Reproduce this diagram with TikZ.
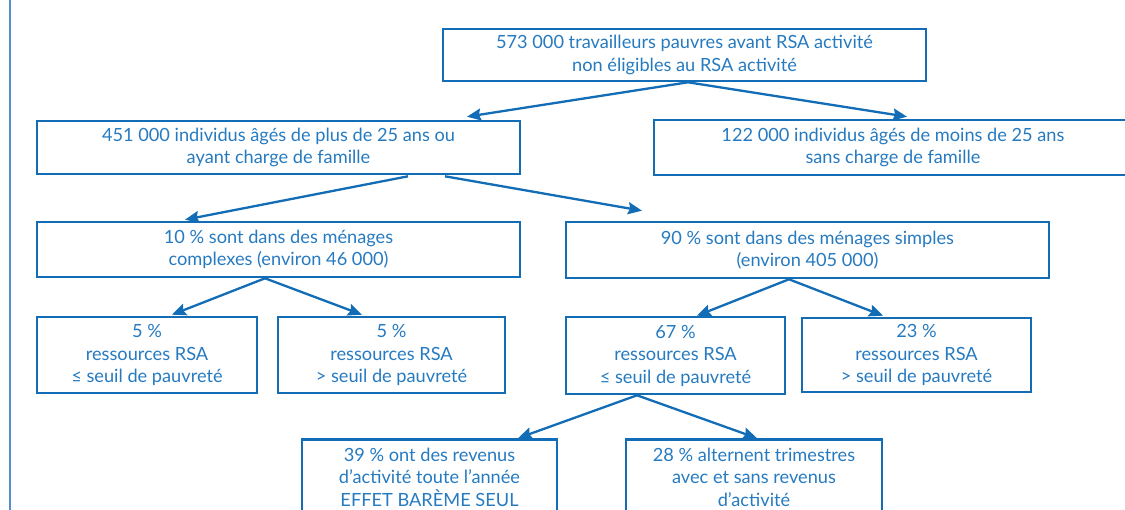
\documentclass[tikz,border=0pt]{standalone}
\usepackage{fontspec}
\setmainfont{Lato}
\usepackage{tikz}
\usetikzlibrary{calc}
\usetikzlibrary{positioning}
\usetikzlibrary{arrows.meta}
\definecolor{rsablue}{RGB}{18,108,182}
\definecolor{rsatext}{RGB}{38,122,192}
\definecolor{rsaframe}{RGB}{80,145,205}
\tikzset{
  flownode/.style = {align=center, inner sep=0pt, text centered,
    font=\fontsize{18.2}{22.5}\selectfont, text=rsatext},
  wide_box/.style = {flownode, rectangle, draw=rsablue, line width=2.6pt,
    minimum width=483pt, minimum height=53pt},
  small_box/.style = {flownode, rectangle, draw=rsablue, line width=2.6pt,
    minimum width=222pt, minimum height=76pt},
  flow_arrow/.style = {rsablue, line width=2.3pt}
}

\begin{document}
\begin{tikzpicture}[
    x=1pt, y=-1pt,
    >={Stealth[length=14pt, width=12pt, inset=2pt]}
    ]
  \useasboundingbox (0,0) rectangle (1125,510);
  \clip (0,0) rectangle (1125,510);
  \draw [rsaframe, line width=1.4pt] (10,0) -- (10,510);

  % top of the tree
  \node (top) [wide_box, minimum height=52pt] at (684.5,55)
    {573 000 travailleurs pauvres avant RSA activité\\
     non éligibles au RSA activité};
  \node (n451) [wide_box] at (278.5,147.5)
    {451 000 individus âgés de plus de 25 ans ou\\
     ayant charge de famille};
  \node (n122) [wide_box, minimum width=478pt, minimum height=55pt] at (893,147.5)
    {122 000 individus âgés de moins de 25 ans\\
     sans charge de famille};

  % type of household
  \node (n10) [wide_box, minimum height=55pt] at (278.5,249.5)
    {10 \% sont dans des ménages\\
     complexes (environ 46 000)};
  \node (n90) [wide_box, minimum height=56pt] at (807.5,250)
    {90 \% sont dans des ménages simples\\
     (environ 405 000)};

  % resources
  \node (n5a) [small_box, minimum width=220pt] at (147,355)
    {5 \%\\ ressources RSA\\ ≤ seuil de pauvreté};
  \node (n5b) [small_box, minimum width=227pt] at (391.5,355)
    {5 \%\\ ressources RSA\\ > seuil de pauvreté};
  \node (n67) [small_box, minimum width=219pt, minimum height=77pt] at (675.5,355.5)
    {67 \%\\ ressources RSA\\ ≤ seuil de pauvreté};
  \node (n23) [small_box, minimum width=229pt, minimum height=74pt] at (916.5,355)
    {23 \%\\ ressources RSA\\ > seuil de pauvreté};

  % activity income
  \node (n39) [small_box, minimum width=255pt, minimum height=75pt] at (429.5,477)
    {39 \% ont des revenus\\ d’activité toute l’année\\ EFFET BARÈME SEUL};
  \node (n28) [small_box, minimum width=256pt, minimum height=75pt] at (754,477)
    {28 \% alternent trimestres\\ avec et sans revenus\\ d’activité};

  \draw [->, flow_arrow] ($(top.south)+(3.5,0)$) -- ($(n451.north)+(188.5,-3)$);
  \draw [->, flow_arrow] ($(top.south)+(3.5,0)$) -- ($(n122.north)+(14,-2)$);
  \draw [->, flow_arrow] ($(n451.south)+(129.5,1)$) -- ($(n10.north)+(-93.5,-1)$);
  \draw [->, flow_arrow] ($(n451.south)+(166.5,1)$) -- ($(n90.north)+(-165.5,-10)$);
  \draw [->, flow_arrow] ($(n10.south)+(-13.5,0)$) -- ($(n5a.north)+(25,-1)$);
  \draw [->, flow_arrow] ($(n10.south)+(-13.5,0)$) -- ($(n5b.north)+(-29.5,-1)$);
  \draw [->, flow_arrow] ($(n90.south)+(-18.5,0)$) -- ($(n67.north)+(21.5,0)$);
  \draw [->, flow_arrow] ($(n90.south)+(-18.5,0)$) -- ($(n23.north)+(-33.5,-1)$);
  \draw [->, flow_arrow] ($(n67.south)+(-38.5,0)$) -- ($(n39.north)+(88.5,0)$);
  \draw [->, flow_arrow] ($(n67.south)+(-38.5,0)$) -- ($(n28.north)+(3,0)$);
\end{tikzpicture}
\end{document}
